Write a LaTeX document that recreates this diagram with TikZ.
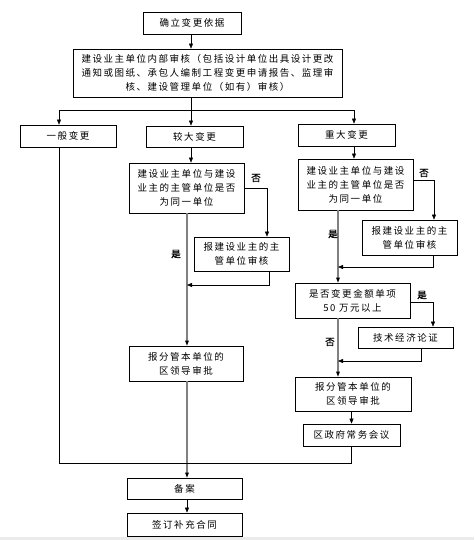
\documentclass[tikz,border=0pt]{standalone}
\usepackage{fontspec}
\setmainfont{Noto Sans CJK SC}[LetterSpace=16]
\newfontfamily\ynfont{Noto Sans CJK SC}[FakeBold=1.5]
\usetikzlibrary{arrows.meta}

\begin{document}
\begin{tikzpicture}[
x=1pt, y=-1pt,
font=\fontsize{9.5}{14}\selectfont,
flowbox/.style={
draw,
line width=0.8pt,
align=center,
inner sep=0 pt,
},
arr/.style={-{Triangle[length=5pt, width=4pt]}},
greyline/.style={draw=black!50, line width=1.2pt,
-{Triangle[length=5pt, width=4pt, color=black, line width=0pt]}},
yesno/.style={font=\fontsize{9.5}{14}\selectfont\ynfont, inner sep=0 pt},
]
\useasboundingbox (0,0) rectangle (474,540);
\fill[black!8] (0,537) rectangle (474,540);

% top boxes
\node [flowbox, minimum width=98, minimum height=22] at (192,23) (start)
{确立变更依据};
\node [flowbox, minimum width=269, minimum height=48] at (207.5,73) (review)
{建设业主单位内部审核（包括设计单位出具设计更改\\
通知或图纸、承包人编制工程变更申请报告、监理审\\
核、建设管理单位（如有）审核）};

% three kinds of change
\node [flowbox, minimum width=96, minimum height=22] at (68,136) (general) {一般变更};
\node [flowbox, minimum width=97, minimum height=21] at (194.5,136.5) (major) {较大变更};
\node [flowbox, minimum width=97, minimum height=22] at (346.5,135) (critical) {重大变更};

% middle column
\node [flowbox, minimum width=115, minimum height=50] at (186.5,188) (same1)
{建设业主单位与建设\\业主的主管单位是否\\为同一单位};
\node [flowbox, minimum width=95, minimum height=34] at (241.5,254) (report1)
{报建设业主的主\\管单位审核};
\node [flowbox, minimum width=114, minimum height=35] at (186,363.5) (leader1)
{报分管本单位的\\区领导审批};

% right column
\node [flowbox, minimum width=115, minimum height=51] at (355.5,184.5) (same2)
{建设业主单位与建设\\业主的主管单位是否\\为同一单位};
\node [flowbox, minimum width=95, minimum height=35] at (409.5,237.5) (report2)
{报建设业主的主\\管单位审核};
\node [flowbox, minimum width=115, minimum height=35] at (352.5,300.5) (amount)
{是否变更金额单项\\50 万元以上};
\node [flowbox, minimum width=95, minimum height=21] at (405.5,337.5) (tech)
{技术经济论证};
\node [flowbox, minimum width=116, minimum height=34] at (353,394) (leader2)
{报分管本单位的\\区领导审批};
\node [flowbox, minimum width=97, minimum height=22] at (351.5,435) (council)
{区政府常务会议};

% bottom boxes
\node [flowbox, minimum width=115, minimum height=21] at (184.5,488.5) (file) {备案};
\node [flowbox, minimum width=115, minimum height=23] at (184.5,524.5) (sign) {签订补充合同};

% bend points
\path
(191,110) coordinate(fork)
(59,110) coordinate(forkL)
(354,110) coordinate(forkR)
(267,188) coordinate(no1)
(187,285) coordinate(yes1)
(269,285) coordinate(back1)
(434,180) coordinate(no2)
(338,267) coordinate(yes2)
(433,267) coordinate(back2)
(433,302) coordinate(yes3)
(338,361) coordinate(merge3)
(421,361) coordinate(back3)
(59,463) coordinate(join)
;

% top part
\draw [arr] (start.south -| fork) -- (fork |- review.north);
\draw (review.south -| fork) -- (fork);
\draw (forkL) -- (forkR);
\draw [arr] (forkL) -- (forkL |- general.north);
\draw [arr] (fork) -- (fork |- major.north);
\draw [arr] (forkR) -- (forkR |- critical.north);

% middle column
\draw [arr] (major.south -| fork) -- (fork |- same1.north);
\draw [arr] (same1.east |- no1) -- (no1) -- (no1 |- report1.north);
\draw [greyline] (same1.south -| yes1) -- (yes1 |- leader1.north);
\draw [arr] (report1.south -| back1) -- (back1) -- (yes1);
\draw [greyline] (leader1.south -| yes1) -- (yes1 |- file.north);
\draw [arr] (file.south -| yes1) -- (yes1 |- sign.north);

% right column
\draw [arr] (critical.south -| forkR) -- (forkR |- same2.north);
\draw [arr] (same2.east |- no2) -- (no2) -- (no2 |- report2.north);
\draw [greyline] (same2.south -| yes2) -- (yes2 |- amount.north);
\draw [arr] (report2.south -| back2) -- (back2) -- (yes2);
\draw [arr] (amount.east |- yes3) -- (yes3) -- (yes3 |- tech.north);
\draw [greyline] (amount.south -| merge3) -- (merge3 |- leader2.north);
\draw [arr] (tech.south -| back3) -- (back3) -- (merge3);
\draw [arr] (leader2.south -| council.north) -- (council.north);

% join to filing
\draw (forkL |- general.south) -- (join) -- (join -| council.south) -- (council.south);

% yes / no labels
\path[every node/.style={yesno}]
(256,178) node (n1) {否}
(176,254) node (y1) {是}
(424,173) node (n2) {否}
(333,234) node (y2) {是}
(422,295) node (y3) {是}
(330,342) node (n3) {否}
;

\end{tikzpicture}
\end{document}
